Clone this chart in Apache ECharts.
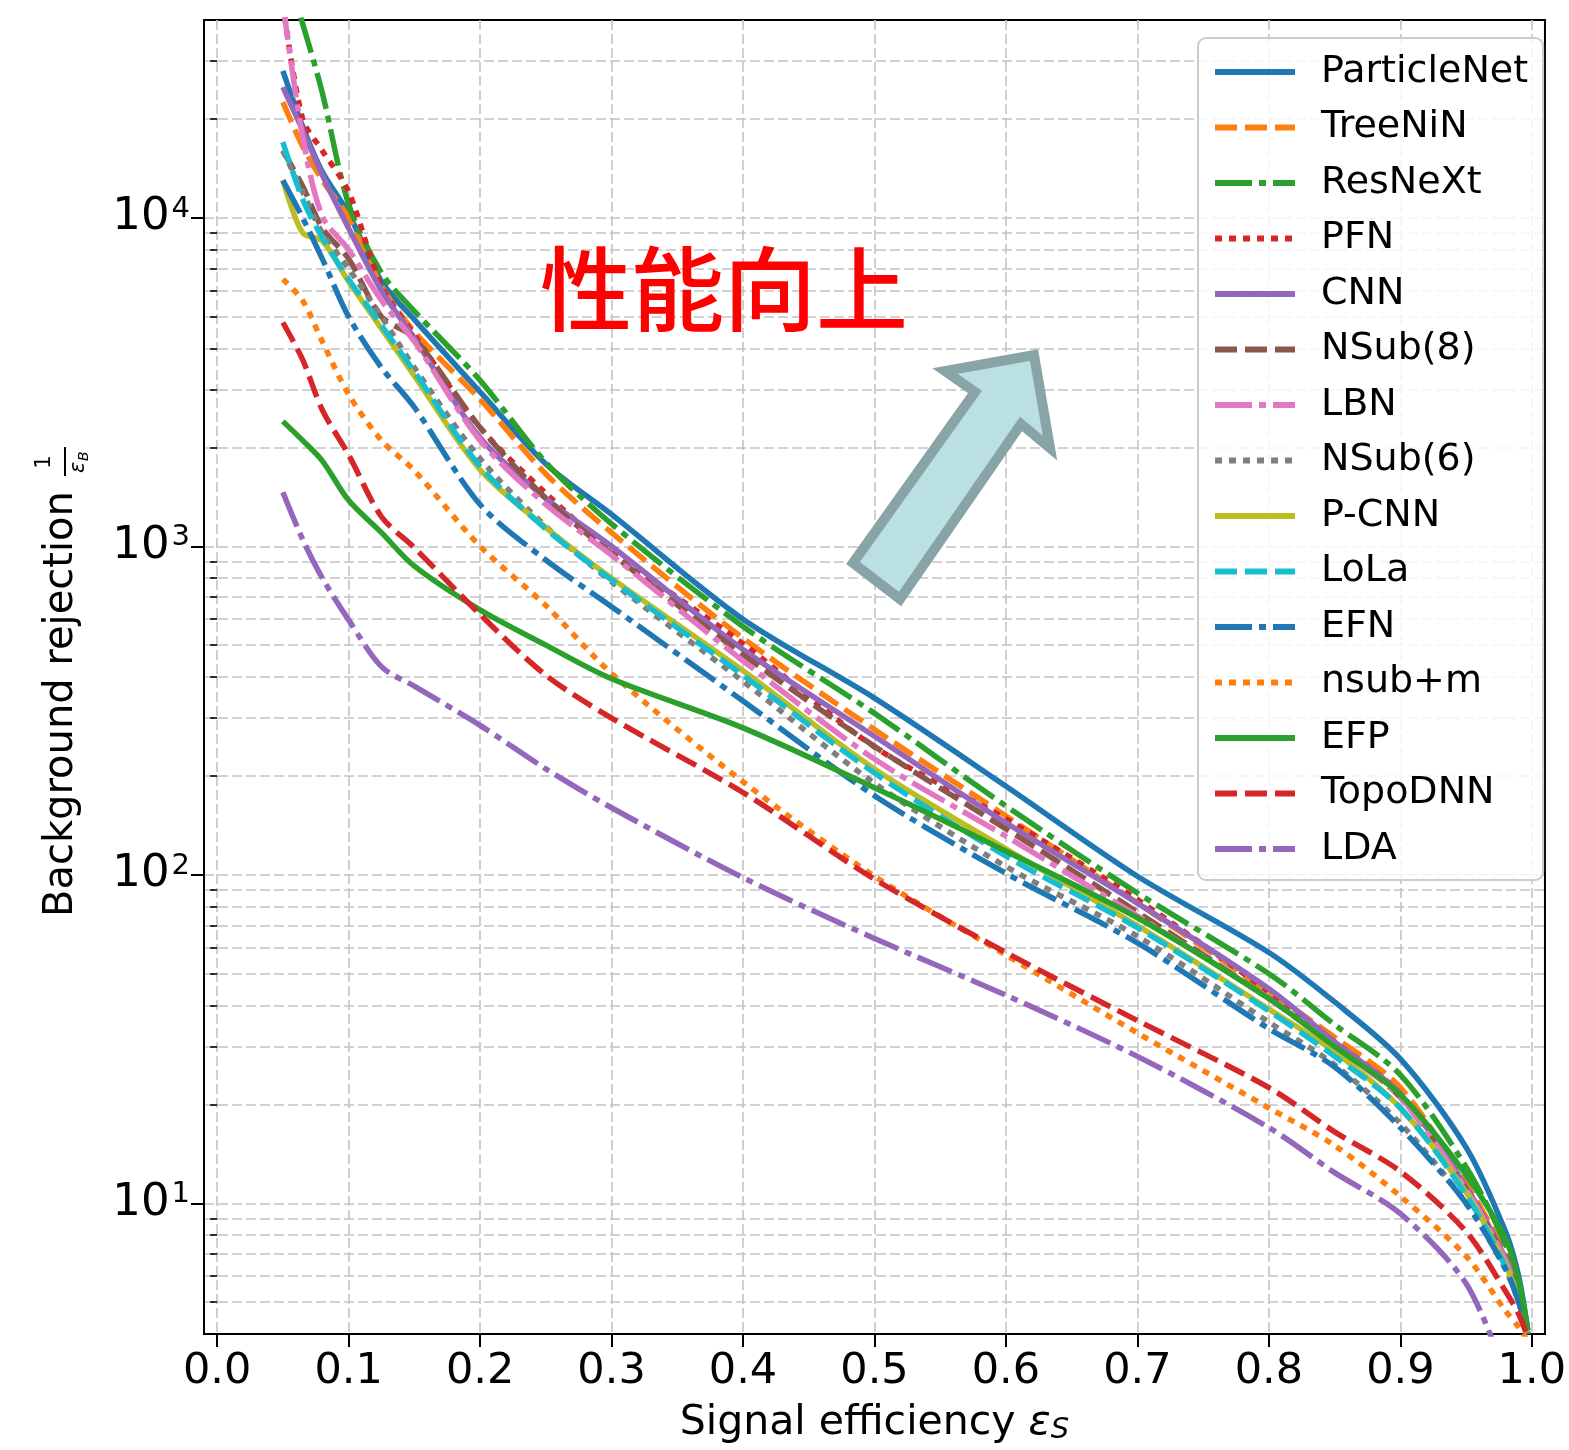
<!DOCTYPE html>
<html>
<head>
<meta charset="utf-8">
<script src="https://cdn.jsdelivr.net/npm/echarts@6/dist/echarts.min.js"></script>
<style>html,body{margin:0;padding:0;background:#fff}#c{width:1569px;height:1450px}</style>
</head>
<body>
<div id="c"></div>
<script>
// ---- data (signal efficiency vs background rejection 1/eps_B) ----
const EFF = [0.05, 0.065, 0.08, 0.1, 0.125, 0.15, 0.2, 0.25, 0.3, 0.4, 0.5, 0.6, 0.7, 0.8, 0.85, 0.9, 0.95, 0.98, 0.99, 0.997];
const PARTICLENET = [28000, 19000, 13800, 10300, 6400, 4900, 2950, 1780, 1250, 600, 345, 186, 99, 58, 41, 27.5, 14.8, 8.2, 6.0, 4.1];
const TREENIN     = [22500, 16500, 13000, 10000, 6200, 4500, 2800, 1660, 1100, 525, 277, 151, 82, 44, 32, 22.5, 11.5, 7.0, 5.3, 4.0];
const RESNEXT     = [60000, 39000, 24000, 11000, 6800, 5200, 3200, 1800, 1170, 570, 310, 162, 88, 50, 35, 24.6, 12.9, 7.5, 5.6, 4.0];
const PFN         = [45000, 20000, 16000, 12000, 6200, 4400, 2300, 1450, 970, 505, 245, 148, 84, 44, 31, 21.5, 11.2, 6.8, 5.2, 4.0];
const CNN         = [25000, 18500, 13500, 9300, 6000, 4300, 2140, 1400, 1000, 485, 264, 144, 82, 45, 31, 21.5, 11.2, 6.8, 5.2, 4.0];
const NSUB8       = [16000, 12500, 9300, 7500, 5000, 4300, 2300, 1400, 950, 468, 246, 138, 77, 42, 30, 21, 11, 6.7, 5.1, 4.0];
const LBN         = [45000, 17700, 10100, 8000, 5600, 4200, 2100, 1340, 940, 448, 225, 131, 75, 42, 30, 21, 11, 6.7, 5.1, 4.0];
const NSUB6       = [16000, 12000, 9000, 7000, 5000, 3500, 1850, 1150, 780, 388, 190, 106, 65, 35.6, 26.4, 17.5, 10, 6.3, 5.0, 4.0];
const PCNN        = [13000, 9000, 8500, 6400, 4600, 3300, 1710, 1140, 800, 418, 210, 120, 70, 39, 28.9, 19.5, 10.8, 6.5, 5.1, 4.0];
const LOLA        = [17000, 11400, 8700, 6500, 4700, 3400, 1750, 1130, 790, 405, 204, 114, 69, 38.5, 28, 19.5, 10.6, 6.4, 5.0, 4.0];
const EFN         = [13000, 10000, 7500, 5000, 3500, 2650, 1340, 908, 655, 338, 174, 101, 62, 34, 26, 17, 10, 6.3, 5.0, 4.0];
const NSUBM       = [6500, 5600, 4200, 2900, 2100, 1700, 1000, 660, 410, 192, 99, 57, 33, 19.5, 15, 10.5, 6.9, 4.7, 4.2, 3.8];
const EFP         = [2400, 2100, 1820, 1380, 1100, 870, 640, 500, 395, 280, 184, 118, 74, 42, 30, 21.4, 12.2, 7.8, 5.8, 4.1];
const TOPODNN     = [4800, 3700, 2600, 1900, 1230, 990, 620, 405, 300, 178, 97, 58, 36, 22.5, 16.5, 12.5, 8.2, 5.4, 4.6, 3.9];
const LDA         = [1460, 1050, 800, 597, 430, 375, 285, 210, 160, 98, 64, 43, 28, 17, 12.4, 9.3, 5.7, 3.0, null, null];

const NAMES = ['ParticleNet','TreeNiN','ResNeXt','PFN','CNN','NSub(8)','LBN','NSub(6)','P-CNN','LoLa','EFN','nsub+m','EFP','TopoDNN','LDA'];
const VALUES = [PARTICLENET, TREENIN, RESNEXT, PFN, CNN, NSUB8, LBN, NSUB6, PCNN, LOLA, EFN, NSUBM, EFP, TOPODNN, LDA];

const X_TICKS = [0, 0.1, 0.2, 0.3, 0.4, 0.5, 0.6, 0.7, 0.8, 0.9, 1.0];
const Y_MAJOR = [10, 100, 1000, 10000];
const Y_MINOR = [5, 6, 7, 8, 9, 20, 30, 40, 50, 60, 70, 80, 90, 200, 300, 400, 500, 600, 700, 800, 900,
                 2000, 3000, 4000, 5000, 6000, 7000, 8000, 9000, 20000, 30000];
const X_RANGE = [-0.01, 1.01];
const Y_RANGE = [4, 40000];
const ANNOTATION = '性能向上';

// ---- styles ----
const COLORS = ['#1f77b4','#ff7f0e','#2ca02c','#d62728','#9467bd','#8c564b','#e377c2','#7f7f7f','#bcbd22','#17becf',
                '#1f77b4','#ff7f0e','#2ca02c','#d62728','#9467bd'];
const DASHES = {solid: 'solid', dashed: [22, 8], dashdot: [37, 7, 7, 7], dotted: [7, 7]};
const CYCLE = ['solid','dashed','dashdot','dotted'];
const LW = 5.5;
const GRID_LINE = {color: '#c4c4c4', width: 1.6, type: [10, 4]};
const FONT = 'DejaVu Sans';

const lg = v => Math.log10(v);

const series = NAMES.map((name, i) => ({
  name,
  type: 'line',
  showSymbol: false,
  symbol: 'none',
  smooth: 0.3,
  connectNulls: false,
  clip: true,
  color: COLORS[i],
  lineStyle: {color: COLORS[i], width: LW, type: DASHES[CYCLE[i % 4]], cap: 'butt'},
  emphasis: {disabled: true},
  data: EFF.map((x, k) => VALUES[i][k] == null ? [x, null] : [x, lg(VALUES[i][k])])
}));

const chart = echarts.init(document.getElementById('c'), null, {renderer: 'canvas'});
const option = {
  animation: false,
  backgroundColor: '#ffffff',
  grid: {left: 204, right: 24, top: 20, bottom: 110, show: true, borderColor: '#000', borderWidth: 2, containLabel: false},
  xAxis: {
    type: 'value', min: X_RANGE[0], max: X_RANGE[1],
    axisLine: {show: true, onZero: false, lineStyle: {color: '#000', width: 2}},
    axisTick: {show: true, length: 13, customValues: X_TICKS, lineStyle: {color: '#000', width: 2}},
    axisLabel: {customValues: X_TICKS, formatter: v => v.toFixed(1), fontFamily: FONT, fontSize: 43, color: '#000', margin: 16},
    splitLine: {show: true, lineStyle: GRID_LINE},
    name: '{n|Signal efficiency }{e|ε}{s|S}',
    nameLocation: 'middle', nameGap: 68,
    nameTextStyle: {
      rich: {
        n: {fontFamily: FONT, fontSize: 41, color: '#000'},
        e: {fontFamily: FONT, fontSize: 41, fontStyle: 'italic', color: '#000'},
        s: {fontFamily: FONT, fontSize: 29, fontStyle: 'italic', color: '#000', verticalAlign: 'bottom', padding: [14, 0, 0, 0]}
      }
    }
  },
  yAxis: [
    {
      type: 'value', min: lg(Y_RANGE[0]), max: lg(Y_RANGE[1]), position: 'left',
      axisLine: {show: true, onZero: false, lineStyle: {color: '#000', width: 2}},
      axisTick: {show: true, length: 13, customValues: Y_MAJOR.map(lg), lineStyle: {color: '#000', width: 2}},
      axisLabel: {
        customValues: Y_MAJOR.map(lg),
        margin: 14,
        formatter: v => '{b|10}{s|' + Math.round(v) + '}',
        rich: {
          b: {fontFamily: FONT, fontSize: 45, color: '#000', lineHeight: 46},
          s: {fontFamily: FONT, fontSize: 29, color: '#000', verticalAlign: 'top', lineHeight: 30, padding: [0, 0, 12, 2]}
        }
      },
      splitLine: {show: true, lineStyle: GRID_LINE}
    },
    {
      type: 'value', min: lg(Y_RANGE[0]), max: lg(Y_RANGE[1]), position: 'left',
      axisLine: {show: false},
      axisTick: {show: true, length: 7, customValues: Y_MINOR.map(lg), lineStyle: {color: '#000', width: 1.6}},
      axisLabel: {show: false},
      splitLine: {show: true, lineStyle: GRID_LINE}
    }
  ],
  legend: {
    data: NAMES,
    orient: 'vertical',
    left: 1198, top: 38,
    padding: [14, 15, 11, 14],
    itemWidth: 80, itemHeight: 14, itemGap: 15.5,
    itemStyle: {opacity: 0},
    lineStyle: {width: 6},
    backgroundColor: 'rgba(255,255,255,0.82)',
    borderColor: '#cccccc', borderWidth: 2, borderRadius: 8,
    textStyle: {fontFamily: FONT, fontSize: 38, color: '#000', lineHeight: 40, padding: [0, 0, 0, 21]},
    selectedMode: false
  },
  graphic: [
    {
      type: 'text', left: 540, top: 243, z: 100,
      style: {text: ANNOTATION, font: '500 92px "Noto Sans CJK JP"', fill: '#ff0000'}
    },
    {
      type: 'polygon', z: 100,
      shape: {points: [[1034, 355], [1050, 448], [1021, 424], [900, 599], [853, 563], [975, 392], [945, 371]]},
      style: {fill: '#bae0e3', stroke: '#89a4a6', lineWidth: 10, lineJoin: 'miter'}
    },
    {
      type: 'group', x: 62, y: 917, rotation: Math.PI / 2, z: 100,
      children: [
        {type: 'text', x: 0, y: 0, style: {text: 'Background rejection', font: '40px "DejaVu Sans"', fill: '#000', textAlign: 'left', textVerticalAlign: 'middle'}},
        {type: 'text', x: 455, y: -17, style: {text: '1', font: '21px "DejaVu Sans"', fill: '#000', textAlign: 'center', textVerticalAlign: 'middle'}},
        {type: 'line', shape: {x1: 441, y1: 3, x2: 470, y2: 3}, style: {stroke: '#000', lineWidth: 2}},
        {type: 'text', x: 444, y: 17, style: {text: 'ε', font: 'italic 21px "DejaVu Sans"', fill: '#000', textAlign: 'left', textVerticalAlign: 'middle'}},
        {type: 'text', x: 456, y: 22, style: {text: 'B', font: 'italic 14px "DejaVu Sans"', fill: '#000', textAlign: 'left', textVerticalAlign: 'middle'}}
      ]
    }
  ],
  series
};
chart.setOption(option);
</script>
</body>
</html>
